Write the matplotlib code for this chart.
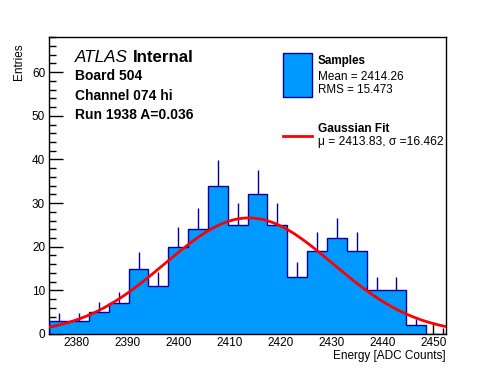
import numpy as np
import matplotlib.pyplot as plt
from matplotlib.ticker import MultipleLocator

# histogram: 20 bins, ROOT-style
x_min = 2374.7
bin_width = 3.89
counts = [3, 3, 5, 7, 15, 11, 20, 24, 34, 25, 32, 25, 13, 19, 22, 19, 10, 10, 2, 0]

# gaussian fit parameters
fit_amp = 26.6
fit_mu = 2413.83
fit_sigma = 16.462

plt.rcParams['font.family'] = ['Liberation Sans', 'DejaVu Sans']

counts = np.array(counts)
edges = x_min + bin_width * np.arange(len(counts) + 1)
centers = 0.5 * (edges[:-1] + edges[1:])

fig = plt.figure(figsize=(4.96, 3.72), dpi=100)
ax = fig.add_axes([0.0994, 0.1022, 0.7998, 0.7975])
renderer = fig.canvas.get_renderer()

fill_col = '#0099ff'
edge_col = '#000099'


def px(x, y):
    return x / 496, 1 - y / 372


def fit_text(x, y, s, width, size, **kw):
    # place text and shrink/grow it so it spans about `width` pixels
    t = fig.text(*px(x, y), s, fontsize=size, va='center', **kw)
    w = t.get_window_extent(renderer).width
    t.set_fontsize(size * width / w)
    return t


# error bars (upper part visible above the fill)
nz = counts > 0
ax.vlines(centers[nz], counts[nz], counts[nz] + np.sqrt(counts[nz]),
          color=edge_col, lw=1, zorder=1)
ax.stairs(counts, edges, fill=True, color=fill_col, zorder=2)
ax.stairs(counts, edges, fill=False, color=edge_col, lw=1, zorder=3)

xs = np.linspace(edges[0], edges[-1], 400)
ax.plot(xs, fit_amp * np.exp(-0.5 * ((xs - fit_mu) / fit_sigma) ** 2), color='red', lw=2, zorder=4)

ax.set_xlim(edges[0], edges[-1])
ax.set_ylim(0, 68)
ax.xaxis.set_major_locator(MultipleLocator(10))
ax.xaxis.set_minor_locator(MultipleLocator(2))
ax.yaxis.set_major_locator(MultipleLocator(10))
ax.yaxis.set_minor_locator(MultipleLocator(2))
ax.tick_params(which='both', direction='in', labelsize=8.5, width=1)
ax.tick_params(which='major', length=10, pad=3)
ax.tick_params(which='minor', length=5)
ax.tick_params(axis='x', which='major', length=9, pad=2)
ax.tick_params(axis='x', which='minor', length=4.5)
for s in ax.spines.values():
    s.set_linewidth(1)

fig.text(446 / 496, 1 - 356 / 372, 'Energy [ADC Counts]', ha='right', va='center', fontsize=8.5)
fig.text(19 / 496, 1 - 43 / 372, 'Entries', rotation=90, ha='center', va='top', fontsize=8.5)

# ATLAS label
fit_text(75, 58, 'ATLAS', 53, 12, style='italic')
fit_text(133, 58, 'Internal', 61, 12, weight='bold')
fit_text(75, 76, 'Board 504', 67, 10, weight='bold')
fit_text(75, 96, 'Channel 074 hi', 97, 10, weight='bold')
fit_text(75, 115, 'Run 1938 A=0.036', 118, 10, weight='bold')

# legend
fig.patches.append(plt.Rectangle(px(283, 97), 29 / 496, 44 / 372,
                                 transform=fig.transFigure, facecolor=fill_col,
                                 edgecolor=edge_col, lw=1))
fit_text(318, 61, 'Samples', 48, 8.5, weight='bold')
fit_text(318, 77, 'Mean = 2414.26', 85, 8.5)
fit_text(318, 90, 'RMS = 15.473', 75, 8.5)
fig.lines.append(plt.Line2D([283 / 496, 312 / 496], [1 - 136 / 372, 1 - 136 / 372],
                            transform=fig.transFigure, color='red', lw=2))
fit_text(318, 129, 'Gaussian Fit', 71, 8.5, weight='bold')
fit_text(318, 142, 'μ = 2413.83, σ =16.462', 125, 8.5)

fig.savefig('out.png', dpi=100)
